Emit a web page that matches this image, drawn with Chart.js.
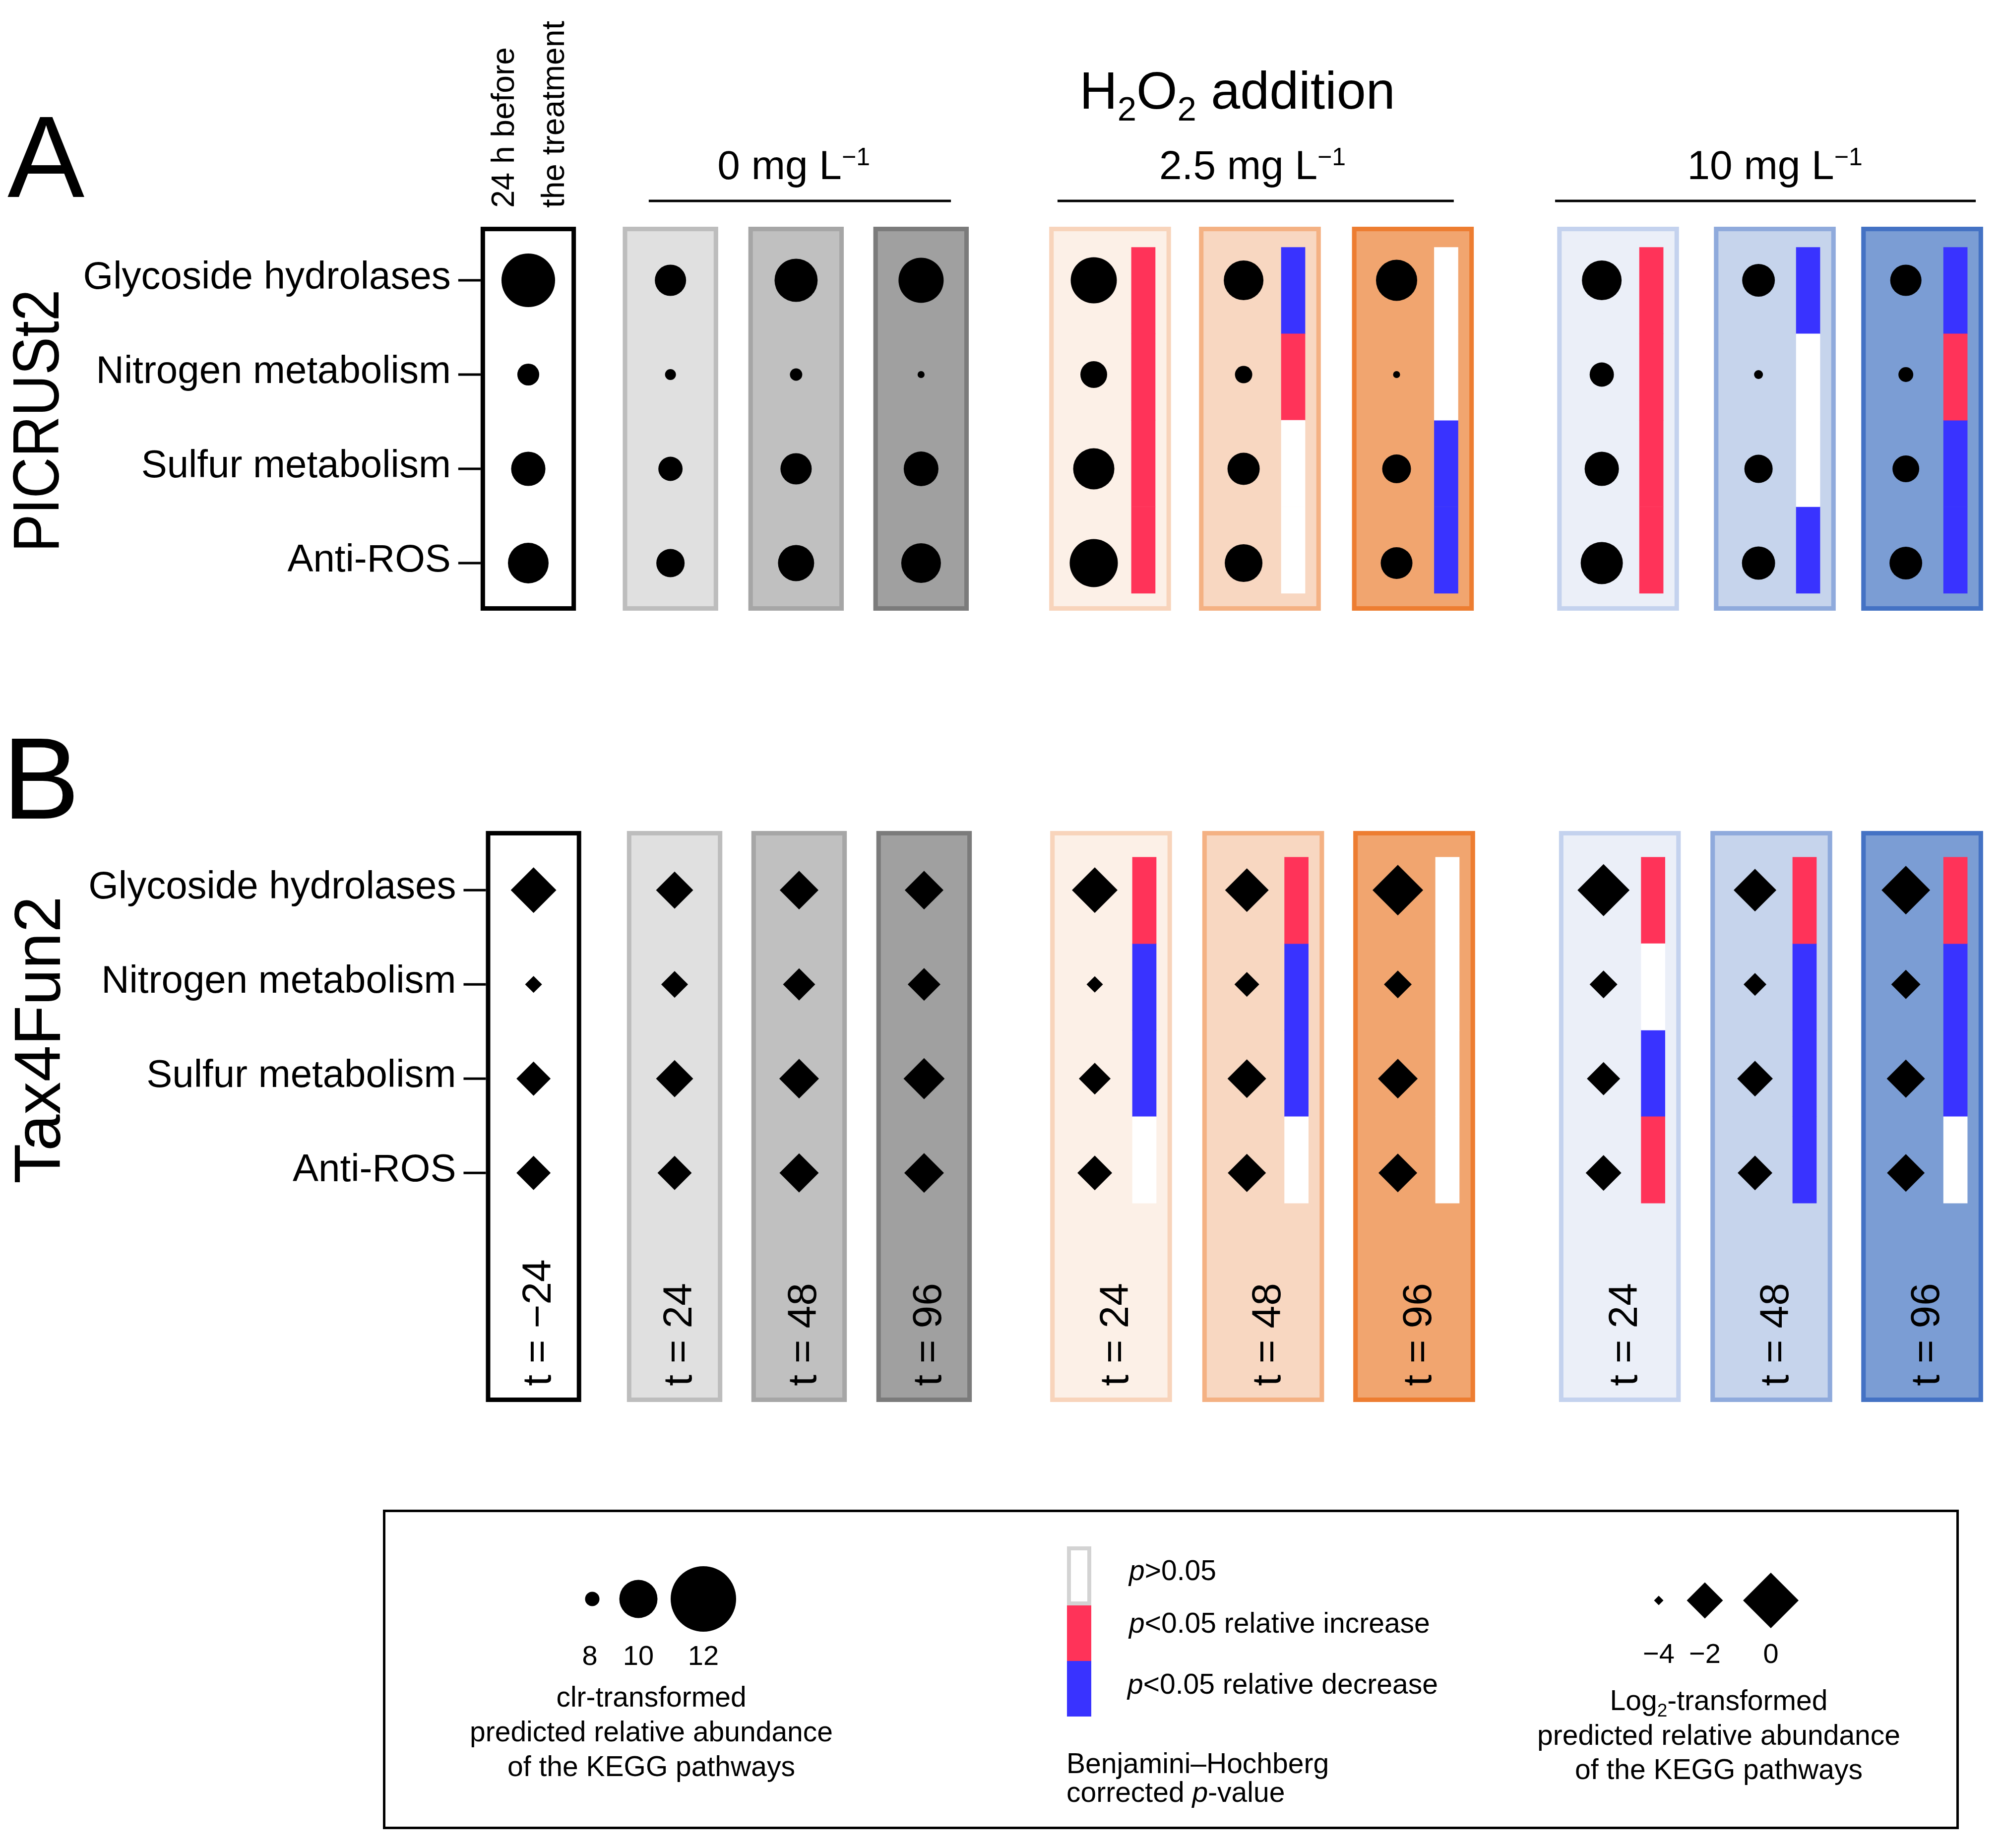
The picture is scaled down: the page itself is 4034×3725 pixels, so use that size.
<!DOCTYPE html>
<html><head><meta charset="utf-8">
<script src="https://cdn.jsdelivr.net/npm/chart.js@4.4.1/dist/chart.umd.min.js"></script>
<style>html,body{margin:0;padding:0;background:#fff;}#wrap{width:4034px;height:3725px;}</style>
</head><body><div id="wrap"><canvas id="c" width="4034" height="3725"></canvas></div>
<script>
// ================= DATA =================
const pathways = ['Glycoside hydrolases', 'Nitrogen metabolism', 'Sulfur metabolism', 'Anti-ROS'];
const timeLabels = ['t = \u221224', 't = 24', 't = 48', 't = 96', 't = 24', 't = 48', 't = 96', 't = 24', 't = 48', 't = 96'];
const doseLabels = ['0 mg L', '2.5 mg L', '10 mg L'];
const panelNames = ['PICRUSt2', 'Tax4Fun2'];
const panelLetters = ['A', 'B'];
// columns: t=-24 | 0 mg L-1: 24,48,96 | 2.5 mg L-1: 24,48,96 | 10 mg L-1: 24,48,96
// PICRUSt2: clr-transformed predicted relative abundance
const picrustGlyco   = [11.13, 9.42, 10.36, 10.51, 10.58, 10.11, 10.22, 10.11, 9.54, 9.42];
const picrustNitro   = [8.63, 7.71, 7.83, 7.38, 9.04, 8.25, 7.38, 8.83, 7.54, 8.04];
const picrustSulfur  = [9.67, 8.83, 9.42, 9.71, 10.22, 9.50, 9.21, 9.67, 9.17, 9.04];
const picrustAntiROS = [10.18, 9.17, 9.83, 10.11, 10.73, 9.96, 9.46, 10.29, 9.58, 9.54];
// Tax4Fun2: log2-transformed predicted relative abundance
const tax4Glyco   = [-1.03, -1.90, -1.74, -1.74, -1.03, -1.23, -0.51, -0.36, -1.33, -0.72];
const tax4Nitro   = [-3.44, -2.70, -2.30, -2.26, -3.48, -2.85, -2.63, -2.63, -3.00, -2.52];
const tax4Sulfur  = [-2.15, -1.90, -1.64, -1.49, -2.33, -1.74, -1.64, -2.22, -2.04, -1.79];
const tax4AntiROS = [-2.15, -2.15, -1.69, -1.64, -2.11, -1.79, -1.74, -2.04, -2.11, -1.85];
// BH-corrected significance for treatment columns (2.5: 24,48,96 ; 10: 24,48,96), rows in pathway order
// 1 = p<0.05 relative increase, -1 = p<0.05 relative decrease, 0 = p>0.05
const picrustSig = [[1, 1, 1, 1], [-1, 1, 0, 0], [0, 0, -1, -1], [1, 1, 1, 1], [-1, 0, 0, -1], [-1, 1, -1, -1]];
const tax4Sig    = [[1, -1, -1, 0], [1, -1, -1, 0], [0, 0, 0, 0], [1, 0, -1, 1], [1, -1, -1, -1], [1, -1, -1, 0]];
const circleLegendTicks = [8, 10, 12];
const diamondLegendTicks = [-4, -2, 0];
const sigLegendLabels = ['>0.05', '<0.05 relative increase', '<0.05 relative decrease'];

// ================= STYLE / LAYOUT =================
const FONT = '"Liberation Sans", Arial, Helvetica, sans-serif';
const RED = '#ff3359', BLUE = '#3933ff';
const boxFill   = ['#ffffff', '#e0e0e0', '#c0c0c0', '#a0a0a0', '#fcf0e7', '#f8d7c1', '#f1a56f', '#ebeff8', '#c6d4ec', '#7b9dd4'];
const boxStroke = ['#000000', '#bdbdbd', '#a6a6a6', '#7b7b7b', '#f8d4bb', '#f4b183', '#ed7d31', '#c4d2ee', '#8faadc', '#4472c4'];
// size scales (value -> marker diameter in px), anchored on the legend keys
const circleSizeStops = [[8, 29], [10, 77], [12, 132]];
const diamondSizeStops = [[-4, 19], [-2, 73], [0, 112]];
function sizeFrom(stops, v) {
  const i = v <= stops[1][0] ? 0 : 1;
  const [v0, d0] = stops[i], [v1, d1] = stops[i + 1];
  return Math.max(3, d0 + (d1 - d0) * (v - v0) / (v1 - v0));
}
// axis ranges (x unit = one column slot, y unit = one pathway row)
const X_MIN = -4.2095, X_MAX = 11.7352;
const Y_MIN = -2.9737, Y_MAX = 16.6316;
const NARROW = 0.76, WIDE = 0.97, BOX_LW = 9;
const MARK_OFF = -0.13, BAR_OFF = 0.265, BAR_TOP = -0.35, SEG = 0.9175;
const panels = [
  { rowY0: 0, top: -0.568, bottom: 3.505,
    colX: [0, 1.133, 2.134, 3.130, 4.636, 5.830, 7.049, 8.684, 9.933, 11.107],
    values: [picrustGlyco, picrustNitro, picrustSulfur, picrustAntiROS], sig: picrustSig },
  { rowY0: 6.47, top: 5.842, bottom: 11.9,
    colX: [0.042, 1.166, 2.158, 3.154, 4.644, 5.856, 7.059, 8.698, 9.905, 11.107],
    values: [tax4Glyco, tax4Nitro, tax4Sulfur, tax4AntiROS], sig: tax4Sig }
];
const groupLine = [[0.960, 3.368], [4.217, 7.375], [8.182, 11.534]];
const groupLabelX = [2.115, 5.771, 9.933];

function markerData(p) {
  const out = [];
  p.values.forEach((arr, r) => arr.forEach((v, c) => out.push({ x: p.colX[c] + (c >= 4 ? MARK_OFF : 0), y: p.rowY0 + r, v })));
  return out;
}
function sigData(code) {
  const out = [];
  panels.forEach(p => p.sig.forEach((rows, k) => {
    const c = k + 4;
    rows.forEach((s, r) => {
      if (s === code) { const y0 = p.rowY0 + BAR_TOP + r * SEG; out.push({ x: p.colX[c] + BAR_OFF, y: [y0, y0 + SEG] }); }
    });
  }));
  return out;
}

function runs(ctx, parts, x, y, align, size) {
  let total = 0;
  const items = parts.map(r => {
    const s = (r.sub || r.sup) ? size * (r.scale || 0.63) : size;
    const font = (r.italic ? 'italic ' : '') + s + 'px ' + FONT;
    ctx.font = font;
    const w = ctx.measureText(r.t).width;
    total += w;
    return { t: r.t, font, w, dy: r.sub ? size * 0.23 : (r.sup ? -size * 0.34 : 0) };
  });
  let cx = align === 'center' ? x - total / 2 : (align === 'right' ? x - total : x);
  ctx.textAlign = 'left'; ctx.textBaseline = 'alphabetic';
  items.forEach(it => { ctx.font = it.font; ctx.fillText(it.t, cx, y + it.dy); cx += it.w; });
}
function rotText(ctx, text, x, y, size, sx) {
  ctx.save(); ctx.translate(x, y); ctx.rotate(-Math.PI / 2); ctx.scale(sx || 1, 1);
  ctx.font = size + 'px ' + FONT; ctx.textAlign = 'left'; ctx.textBaseline = 'alphabetic';
  ctx.fillText(text, 0, 0); ctx.restore();
}

const decor = {
  id: 'decor',
  beforeDatasetsDraw(chart) {
    const { ctx, scales: { x, y } } = chart;
    ctx.save();
    panels.forEach(p => p.colX.forEach((cx, c) => {
      const w = c < 4 ? NARROW : WIDE;
      const l = x.getPixelForValue(cx - w / 2), r = x.getPixelForValue(cx + w / 2);
      const t = y.getPixelForValue(p.top), b = y.getPixelForValue(p.bottom);
      ctx.fillStyle = boxFill[c]; ctx.fillRect(l, t, r - l, b - t);
      ctx.lineWidth = BOX_LW; ctx.strokeStyle = boxStroke[c];
      ctx.strokeRect(l + BOX_LW / 2, t + BOX_LW / 2, r - l - BOX_LW, b - t - BOX_LW);
    }));
    ctx.restore();
  },
  afterDatasetsDraw(chart) {
    const { ctx, scales: { x, y } } = chart;
    ctx.save();
    ctx.fillStyle = '#000'; ctx.strokeStyle = '#000';
    // panel letters & names
    ctx.font = '233px ' + FONT; ctx.textAlign = 'left'; ctx.textBaseline = 'alphabetic';
    ctx.fillText(panelLetters[0], 15, 397);
    ctx.fillText(panelLetters[1], 5, 1650);
    rotText(ctx, panelNames[0], 118, 1113, 132, 0.87);
    rotText(ctx, panelNames[1], 121, 2386, 132, 1.0);
    // row labels + ticks
    panels.forEach(p => {
      const boxL = x.getPixelForValue(p.colX[0] - NARROW / 2);
      pathways.forEach((name, r) => {
        const py = y.getPixelForValue(p.rowY0 + r);
        ctx.lineWidth = 5; ctx.beginPath(); ctx.moveTo(boxL - 45, py); ctx.lineTo(boxL, py); ctx.stroke();
        ctx.font = '78px ' + FONT; ctx.textAlign = 'right'; ctx.textBaseline = 'alphabetic';
        ctx.fillText(name, boxL - 60, py + 17);
      });
    });
    // header above column 1
    const c0 = x.getPixelForValue(panels[0].colX[0]);
    rotText(ctx, '24 h before', c0 - 29, 419, 64);
    rotText(ctx, 'the treatment', c0 + 72, 419, 64);
    // H2O2 addition
    runs(ctx, [{ t: 'H' }, { t: '2', sub: true, scale: 0.65 }, { t: 'O' }, { t: '2', sub: true, scale: 0.65 }, { t: ' addition' }],
      x.getPixelForValue(5.650), y.getPixelForValue(-1.821), 'center', 106);
    // dose groups
    doseLabels.forEach((d, g) => {
      runs(ctx, [{ t: d }, { t: '\u22121', sup: true, scale: 0.61 }], x.getPixelForValue(groupLabelX[g]), y.getPixelForValue(-1.074), 'center', 82);
      ctx.lineWidth = 5; ctx.beginPath();
      const ly = y.getPixelForValue(-0.842);
      ctx.moveTo(x.getPixelForValue(groupLine[g][0]), ly); ctx.lineTo(x.getPixelForValue(groupLine[g][1]), ly); ctx.stroke();
    });
    // time labels (panel B)
    const pB = panels[1];
    timeLabels.forEach((t, c) => rotText(ctx, t, x.getPixelForValue(pB.colX[c]) + 34, y.getPixelForValue(11.73), 82));

    // ---------- legend ----------
    ctx.lineWidth = 5; ctx.strokeStyle = '#000';
    ctx.strokeRect(774.5, 3045.5, 3172, 639);
    // circle size key
    const cKeyX = [1194, 1287, 1418];
    circleLegendTicks.forEach((v, i) => {
      const d = sizeFrom(circleSizeStops, v);
      ctx.beginPath(); ctx.arc(cKeyX[i], 3223, d / 2, 0, Math.PI * 2); ctx.fill();
      ctx.font = '56px ' + FONT; ctx.textAlign = 'center'; ctx.fillText(String(v), cKeyX[i] - (i === 0 ? 5 : 0), 3356);
    });
    ctx.font = '57px ' + FONT; ctx.textAlign = 'center';
    ctx.fillText('clr-transformed', 1313, 3440);
    ctx.fillText('predicted relative abundance', 1313, 3510);
    ctx.fillText('of the KEGG pathways', 1313, 3580);
    // significance key
    ctx.fillStyle = '#fff'; ctx.fillRect(2151, 3117, 49, 119);
    ctx.lineWidth = 8; ctx.strokeStyle = '#d3d3d3'; ctx.strokeRect(2155, 3121, 41, 111);
    ctx.fillStyle = RED; ctx.fillRect(2151, 3236, 49, 112);
    ctx.fillStyle = BLUE; ctx.fillRect(2151, 3348, 49, 112);
    ctx.fillStyle = '#000';
    runs(ctx, [{ t: 'p', italic: true }, { t: sigLegendLabels[0] }], 2276, 3185, 'left', 57);
    runs(ctx, [{ t: 'p', italic: true }, { t: sigLegendLabels[1] }], 2276, 3291, 'left', 57);
    runs(ctx, [{ t: 'p', italic: true }, { t: sigLegendLabels[2] }], 2273, 3414, 'left', 57);
    runs(ctx, [{ t: 'Benjamini\u2013Hochberg' }], 2150, 3574, 'left', 57);
    runs(ctx, [{ t: 'corrected ' }, { t: 'p', italic: true }, { t: '-value' }], 2150, 3632, 'left', 57);
    // diamond size key
    const dKeyX = [3344, 3437, 3570];
    diamondLegendTicks.forEach((v, i) => {
      const h = sizeFrom(diamondSizeStops, v) / 2, cx = dKeyX[i], cy = 3226;
      ctx.beginPath(); ctx.moveTo(cx - h, cy); ctx.lineTo(cx, cy - h); ctx.lineTo(cx + h, cy); ctx.lineTo(cx, cy + h); ctx.closePath(); ctx.fill();
      ctx.font = '56px ' + FONT; ctx.textAlign = 'center';
      ctx.fillText(v < 0 ? '\u2212' + Math.abs(v) : String(v), cx, 3352);
    });
    runs(ctx, [{ t: 'Log' }, { t: '2', sub: true, scale: 0.65 }, { t: '-transformed' }], 3465, 3447, 'center', 57);
    runs(ctx, [{ t: 'predicted relative abundance' }], 3465, 3517, 'center', 57);
    runs(ctx, [{ t: 'of the KEGG pathways' }], 3465, 3586, 'center', 57);
    ctx.restore();
  }
};

new Chart(document.getElementById('c'), {
  type: 'scatter',
  data: {
    datasets: [
      { type: 'scatter', label: panelNames[0], data: markerData(panels[0]), pointStyle: 'circle',
        backgroundColor: '#000', pointBackgroundColor: '#000', pointBorderWidth: 0, borderWidth: 0,
        pointRadius: c => c.raw ? sizeFrom(circleSizeStops, c.raw.v) / 2 : 0, pointHoverRadius: 0 },
      { type: 'scatter', label: panelNames[1], data: markerData(panels[1]), pointStyle: 'rectRot',
        backgroundColor: '#000', pointBackgroundColor: '#000', pointBorderWidth: 0, borderWidth: 0,
        pointRadius: c => c.raw ? sizeFrom(diamondSizeStops, c.raw.v) / 2 : 0, pointHoverRadius: 0 },
      { type: 'bar', label: 'p>0.05', data: sigData(0), backgroundColor: '#ffffff', barThickness: 48, grouped: false, borderWidth: 0 },
      { type: 'bar', label: 'p<0.05 relative increase', data: sigData(1), backgroundColor: RED, barThickness: 48, grouped: false, borderWidth: 0 },
      { type: 'bar', label: 'p<0.05 relative decrease', data: sigData(-1), backgroundColor: BLUE, barThickness: 48, grouped: false, borderWidth: 0 }
    ]
  },
  options: {
    responsive: false, devicePixelRatio: 1, animation: false, events: [],
    layout: { padding: 0, autoPadding: false },
    plugins: { legend: { display: false }, tooltip: { enabled: false } },
    scales: {
      x: { type: 'linear', display: false, offset: false, min: X_MIN, max: X_MAX, grace: 0 },
      y: { type: 'linear', display: false, offset: false, reverse: true, min: Y_MIN, max: Y_MAX, grace: 0, beginAtZero: false }
    }
  },
  plugins: [decor]
});
</script></body></html>
